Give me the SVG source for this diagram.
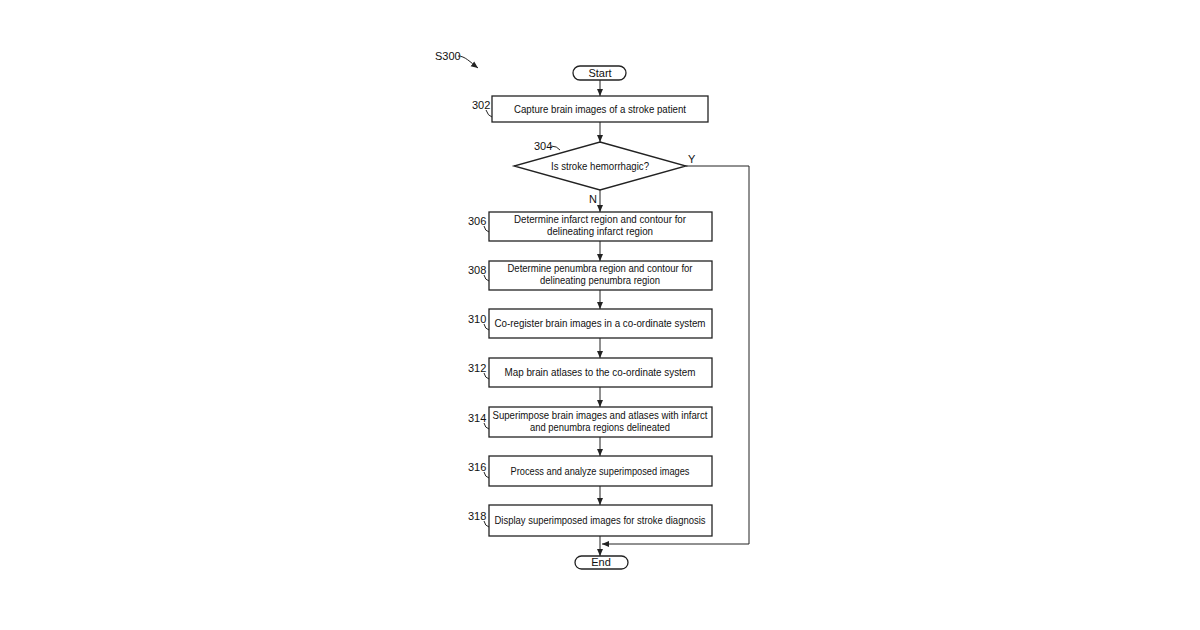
<svg xmlns="http://www.w3.org/2000/svg" width="1200" height="630" viewBox="0 0 1200 630">
<defs>
<marker id="ah" markerWidth="8" markerHeight="8" refX="7" refY="4" orient="auto" markerUnits="userSpaceOnUse"><path d="M0,1 L7,4 L0,7 Z" fill="#222"/></marker>
<style>
.b{fill:#fff;stroke:#222;stroke-width:1.3}
.t{font-family:"Liberation Sans",Arial,sans-serif;font-size:11px;fill:#111;text-anchor:middle;lengthAdjust:spacingAndGlyphs}
.n{font-family:"Liberation Sans",Arial,sans-serif;font-size:11px;fill:#111}
.c{fill:none;stroke:#222;stroke-width:1}
</style>
</defs>
<rect width="1200" height="630" fill="#fff"/>
<text class="n" x="435" y="60">S300</text>
<path class="c" d="M458,56 C465,56 470,62 478,68" marker-end="url(#ah)"/>
<g id="connectors">
<line class="c" x1="600" y1="80" x2="600" y2="96" marker-end="url(#ah)"/>
<line class="c" x1="600" y1="122" x2="600" y2="142" marker-end="url(#ah)"/>
<line class="c" x1="600" y1="190" x2="600" y2="212" marker-end="url(#ah)"/>
<line class="c" x1="600" y1="241" x2="600" y2="261" marker-end="url(#ah)"/>
<line class="c" x1="600" y1="290" x2="600" y2="309" marker-end="url(#ah)"/>
<line class="c" x1="600" y1="338" x2="600" y2="358" marker-end="url(#ah)"/>
<line class="c" x1="600" y1="387" x2="600" y2="407" marker-end="url(#ah)"/>
<line class="c" x1="600" y1="437" x2="600" y2="456" marker-end="url(#ah)"/>
<line class="c" x1="600" y1="486" x2="600" y2="505" marker-end="url(#ah)"/>
<line class="c" x1="600" y1="536" x2="600" y2="556" marker-end="url(#ah)"/>
<polyline class="c" points="686,166 749,166 749,544 602,544" marker-end="url(#ah)"/>
<text class="n" x="688" y="163">Y</text>
<text class="n" x="589" y="203">N</text>
</g>
<g id="start"><rect class="b" x="573" y="66" width="53" height="14" rx="7"/><text class="t" x="600" y="77">Start</text></g>
<g id="n302"><rect class="b" x="492" y="96" width="216" height="26"/><text class="t" x="600" y="113" textLength="172" lengthAdjust="spacingAndGlyphs">Capture brain images of a stroke patient</text><text class="n" x="472" y="109">302</text><path class="c" d="M486,110 Q488,116 492,117"/></g>
<g id="n304"><polygon class="b" points="600,142 686,166 600,190 514,166"/><text class="t" x="600" y="170" textLength="98" lengthAdjust="spacingAndGlyphs">Is stroke hemorrhagic?</text><text class="n" x="534" y="150">304</text><path class="c" d="M551,146 Q557,146 560,150"/></g>
<g id="n306"><rect class="b" x="489" y="212" width="223" height="29"/><text class="t" x="600" y="223" textLength="172" lengthAdjust="spacingAndGlyphs">Determine infarct region and contour for</text><text class="t" x="600" y="235" textLength="106" lengthAdjust="spacingAndGlyphs">delineating infarct region</text><text class="n" x="468" y="225">306</text><path class="c" d="M484,226 Q485,231 489,232"/></g>
<g id="n308"><rect class="b" x="489" y="261" width="223" height="29"/><text class="t" x="600" y="272" textLength="185" lengthAdjust="spacingAndGlyphs">Determine penumbra region and contour for</text><text class="t" x="600" y="284" textLength="120" lengthAdjust="spacingAndGlyphs">delineating penumbra region</text><text class="n" x="468" y="274">308</text><path class="c" d="M484,275 Q485,280 489,281"/></g>
<g id="n310"><rect class="b" x="489" y="309" width="223" height="29"/><text class="t" x="600" y="327" textLength="211" lengthAdjust="spacingAndGlyphs">Co-register brain images in a co-ordinate system</text><text class="n" x="468" y="323">310</text><path class="c" d="M484,324 Q485,329 489,330"/></g>
<g id="n312"><rect class="b" x="489" y="358" width="223" height="29"/><text class="t" x="600" y="376" textLength="191" lengthAdjust="spacingAndGlyphs">Map brain atlases to the co-ordinate system</text><text class="n" x="468" y="372">312</text><path class="c" d="M484,373 Q485,378 489,379"/></g>
<g id="n314"><rect class="b" x="489" y="407" width="223" height="30"/><text class="t" x="600" y="419" textLength="215" lengthAdjust="spacingAndGlyphs">Superimpose brain images and atlases with infarct</text><text class="t" x="600" y="431" textLength="140" lengthAdjust="spacingAndGlyphs">and penumbra regions delineated</text><text class="n" x="468" y="422">314</text><path class="c" d="M484,423 Q485,428 489,429"/></g>
<g id="n316"><rect class="b" x="489" y="456" width="223" height="30"/><text class="t" x="600" y="475" textLength="179" lengthAdjust="spacingAndGlyphs">Process and analyze superimposed images</text><text class="n" x="468" y="471">316</text><path class="c" d="M484,472 Q485,477 489,478"/></g>
<g id="n318"><rect class="b" x="489" y="505" width="223" height="31"/><text class="t" x="600" y="524" textLength="211" lengthAdjust="spacingAndGlyphs">Display superimposed images for stroke diagnosis</text><text class="n" x="468" y="520">318</text><path class="c" d="M484,521 Q485,526 489,527"/></g>
<g id="end"><rect class="b" x="575" y="556" width="53" height="13" rx="6.5"/><text class="t" x="601" y="566">End</text></g>
</svg>
